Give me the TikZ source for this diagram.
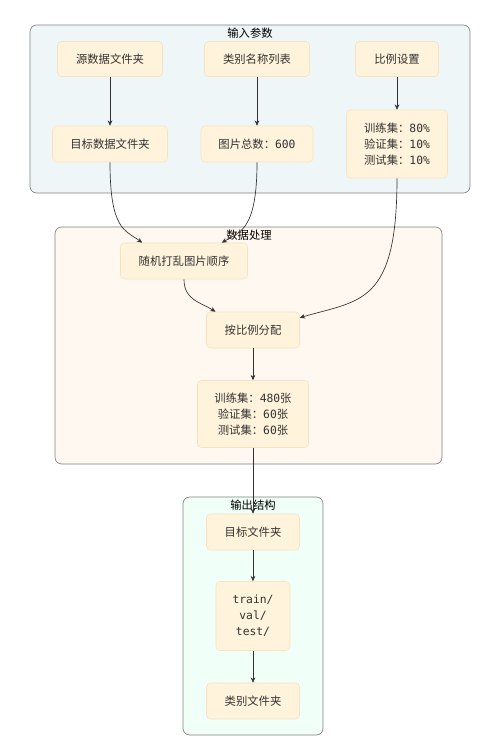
\documentclass[tikz,border=0pt]{standalone}
\usepackage{fontspec}
\setmainfont{Noto Sans CJK SC}
\setmonofont{DejaVu Sans Mono}
\usepackage{xcolor}
\usetikzlibrary{arrows.meta}

\definecolor{boxfill}{HTML}{FFF3DC}
\definecolor{boxline}{HTML}{F6E2BE}
\definecolor{inputbg}{HTML}{EFF6F7}
\definecolor{procbg}{HTML}{FFF8F0}
\definecolor{outbg}{HTML}{F0FFF8}
\definecolor{grpline}{HTML}{808080}
\definecolor{edgeclr}{HTML}{333333}

\begin{document}
\begin{tikzpicture}[x=0.75pt, y=-0.75pt,
    every node/.style = {font=\fontsize{8.5}{12}\selectfont, text=black!80},
    stepbox/.style = {shape=rectangle, rounded corners=3pt, draw=boxline,
      fill=boxfill, align=center, inner sep=2pt},
    group/.style = {draw=grpline, rounded corners=5pt, line width=0.5pt},
    grouptitle/.style = {inner sep=1pt, text=black},
    flow/.style = {draw=edgeclr, line width=0.5pt, -{Stealth[length=4pt,width=3.5pt]}}]
    \useasboundingbox (0,0) rectangle (502,741);

    % groups
    \draw[group, fill=inputbg] (30,25) rectangle (470,193);
    \node[grouptitle] (inputtitle) at (250,33) {输入参数};
    \draw[group, fill=procbg] (55,227) rectangle (442,464);
    \node[grouptitle] (proctitle) at (249,235) {数据处理};
    \draw[group, fill=outbg] (183,497) rectangle (323,735);
    \node[grouptitle] (outtitle) at (253,505) {输出结构};

    % input parameters
    \node[stepbox, minimum width=78.75pt, minimum height=26.25pt] (srcdir) at (110,59) {源数据文件夹};
    \node[stepbox, minimum width=78.75pt, minimum height=26.25pt] (classlist) at (257,59) {类别名称列表};
    \node[stepbox, minimum width=62.25pt, minimum height=26.25pt] (ratioset) at (397,59) {比例设置};
    \node[stepbox, minimum width=86.25pt, minimum height=27pt] (dstdir) at (110,144) {目标数据文件夹};
    \node[stepbox, minimum width=84pt, minimum height=27pt] (total) at (257,144) {图片总数：{\ttfamily 600}};
    \node[stepbox, minimum width=75.75pt, minimum height=51pt] (ratios) at (397,144)
        {训练集：{\ttfamily 80\%}\\验证集：{\ttfamily 10\%}\\测试集：{\ttfamily 10\%}};

    % processing
    \node[stepbox, minimum width=95.25pt, minimum height=27pt] (shuffle) at (184,261) {随机打乱图片顺序};
    \node[stepbox, minimum width=69.75pt, minimum height=27pt] (split) at (253,330) {按比例分配};
    \node[stepbox, minimum width=83.25pt, minimum height=50.25pt] (counts) at (253,414)
        {训练集：{\ttfamily 480}张\\验证集：{\ttfamily 60}张\\测试集：{\ttfamily 60}张};

    % output
    \node[stepbox, minimum width=69.75pt, minimum height=27pt] (outdir) at (253,532) {目标文件夹};
    \node[stepbox, minimum width=55.5pt, minimum height=51.75pt, font=\fontsize{8.5}{12}\ttfamily] (subdirs) at (253,616)
        {train/\\val/\\test/};
    \node[stepbox, minimum width=69.75pt, minimum height=27pt] (classdir) at (253,701) {类别文件夹};

    % connectors
    \draw[flow] (srcdir) -- (dstdir);
    \draw[flow] (classlist) -- (total);
    \draw[flow] (ratioset) -- (ratios);
    \draw[flow] (dstdir.south) .. controls (110,230) and (125,230) .. ([xshift=16.5pt]shuffle.north west);
    \draw[flow] (total.south) .. controls (257,230) and (240,232) .. ([xshift=-19.5pt]shuffle.north east);
    \draw[flow] (ratios.south) .. controls (397,305) and (360,300) .. ([yshift=-4.5pt]split.north east);
    \draw[flow] (shuffle.south) .. controls (184,300) and (200,302) .. ([xshift=7pt]split.north west);
    \draw[flow] (split) -- (counts);
    \draw[flow] (counts) -- (outdir);
    \draw[flow] (outdir) -- (subdirs);
    \draw[flow] (subdirs) -- (classdir);
\end{tikzpicture}
\end{document}
